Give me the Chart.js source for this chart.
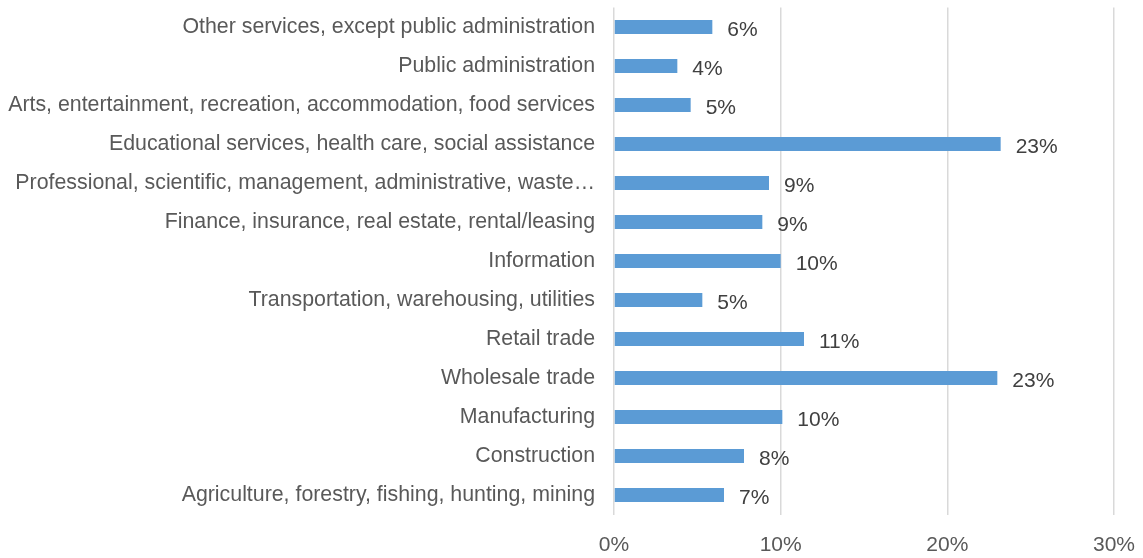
<!DOCTYPE html>
<html>
<head>
<meta charset="utf-8">
<script src="https://cdn.jsdelivr.net/npm/chart.js@4/dist/chart.umd.min.js"></script>
<style>
  html, body { margin: 0; padding: 0; background: #fff; }
  #wrap { width: 1143px; height: 558px; position: relative; }
</style>
</head>
<body>
<div id="wrap"><canvas id="main-chart"></canvas></div>
<script>
const industries = [
  'Other services, except public administration',
  'Public administration',
  'Arts, entertainment, recreation, accommodation, food services',
  'Educational services, health care, social assistance',
  'Professional, scientific, management, administrative, waste\u2026',
  'Finance, insurance, real estate, rental/leasing',
  'Information',
  'Transportation, warehousing, utilities',
  'Retail trade',
  'Wholesale trade',
  'Manufacturing',
  'Construction',
  'Agriculture, forestry, fishing, hunting, mining',
];
const shares = [5.9, 3.8, 4.6, 23.2, 9.3, 8.9, 10.0, 5.3, 11.4, 23.0, 10.1, 7.8, 6.6];
const xTicks = [0, 10, 20, 30];

const FONT = '"Liberation Sans", Arial, sans-serif';

// Value labels just past the end of each bar
const barLabels = {
  id: 'barLabels',
  afterDatasetsDraw(chart) {
    const ctx = chart.ctx;
    const meta = chart.getDatasetMeta(0);
    ctx.save();
    ctx.font = `21px ${FONT}`;
    ctx.fillStyle = '#404040';
    ctx.textAlign = 'left';
    ctx.textBaseline = 'middle';
    meta.data.forEach((bar, i) => {
      ctx.fillText(Math.round(shares[i]) + '%', bar.x + 15, bar.y + 3);
    });
    ctx.restore();
  }
};

const ctx = document.getElementById('main-chart').getContext('2d');
new Chart(ctx, {
  type: 'bar',
  data: {
    labels: industries,
    datasets: [{
      data: shares,
      backgroundColor: '#5b9bd5',
      borderWidth: 0,
      categoryPercentage: 1,
      barPercentage: 0.36,
    }]
  },
  options: {
    indexAxis: 'y',
    responsive: true,
    maintainAspectRatio: false,
    animation: false,
    layout: { padding: { top: 7.5, right: 29, bottom: 0, left: 0 } },
    plugins: {
      legend: { display: false },
      tooltip: { enabled: false },
    },
    scales: {
      x: {
        min: 0,
        max: 30,
        afterBuildTicks: scale => { scale.ticks = xTicks.map(v => ({ value: v })); },
        grid: { color: '#d9d9d9', lineWidth: 1.5, drawTicks: false },
        border: { display: false },
        ticks: {
          color: '#595959',
          font: { family: FONT, size: 21 },
          padding: 18,
          maxRotation: 0,
          callback: v => v + '%',
        },
        afterFit: scale => {
          scale.height = 43.5;
          scale.paddingLeft = 0;
          scale.paddingRight = 0;
        },
      },
      y: {
        grid: { display: false, drawTicks: false },
        border: { display: false },
        ticks: {
          color: '#595959',
          font: { family: FONT, size: 21.33 },
          padding: 19,
          autoSkip: false,
        },
        afterFit: scale => {
          scale.width = 614;
          scale.paddingTop = 0;
          scale.paddingBottom = 0;
        },
      }
    }
  },
  plugins: [barLabels]
});
</script>
</body>
</html>
